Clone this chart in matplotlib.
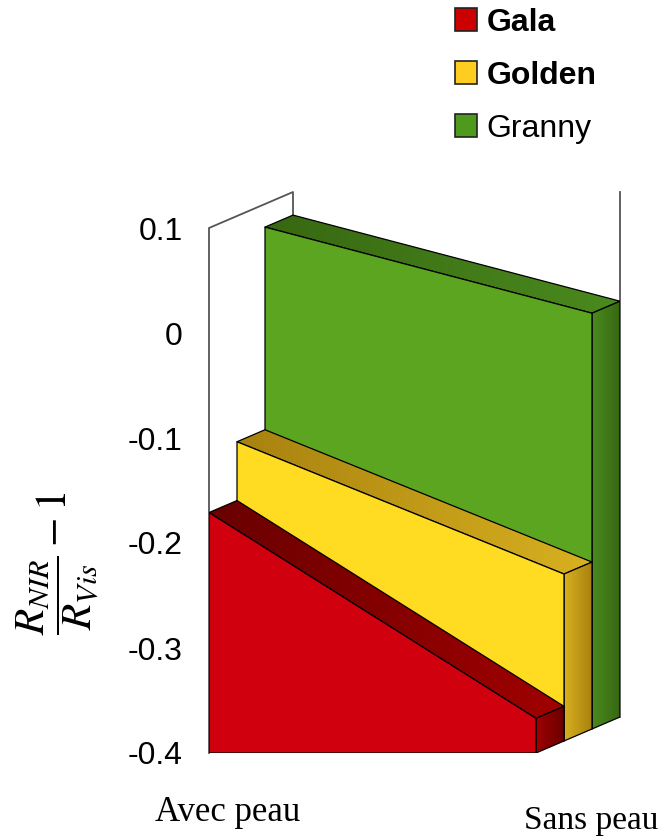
'''
3D-style area chart: NIR/Vis reflectance ratio, with and without skin.
'''

import numpy as np
import matplotlib
matplotlib.use('Agg')
import matplotlib.pyplot as plt
from matplotlib.patches import Polygon, Patch
from matplotlib.colors import LinearSegmentedColormap

plt.rcParams['mathtext.fontset'] = 'stix'

categories = ['Avec peau', 'Sans peau']
series = ['Gala', 'Golden', 'Granny']
gala = [-0.171, -0.367]
golden = [-0.115, -0.241]
granny = [0.078, -0.004]
yticks = [-0.4, -0.3, -0.2, -0.1, 0, 0.1]
yticklabels = ['-0.4', '-0.3', '-0.2', '-0.1', '0', '0.1']

front_colors = ['#D0000F', '#FFDC21', '#5CA520']
# depth faces: light -> dark shading
depth_colors = [('#A00000', '#6A0000'), ('#D8B020', '#A8820F'), ('#4A8A1E', '#386812')]
legend_colors = ['#CC0000', '#FFCC22', '#4E9A1C']

ymin, ymax = -0.4, 0.1
ddx = 28 / 327.0      # depth step, x data units
ddy = 12 / 1050.0     # depth step, y data units
n = len(series)

fig = plt.figure(figsize=(6.7, 8.38), dpi=100)
ax = fig.add_axes([209 / 670, 85 / 838, (1 + n * ddx) * 327 / 670,
                   (ymax - ymin + n * ddy) * 1050 / 838])
for s in ax.spines.values():
    s.set_visible(False)


def shaded(pts, c1, c2, z, horizontal=True):
    poly = Polygon(pts, closed=True, facecolor='none', edgecolor='black',
                   lw=0.9, joinstyle='round', zorder=z + 0.5)
    ax.add_patch(poly)
    xs = [p[0] for p in pts]
    ys = [p[1] for p in pts]
    cm = LinearSegmentedColormap.from_list('g', [c1, c2])
    grad = np.linspace(0, 1, 64)
    grad = grad[None, :] if horizontal else grad[:, None]
    im = ax.imshow(grad, cmap=cm, aspect='auto', origin='lower',
                   extent=[min(xs), max(xs), min(ys), max(ys)], zorder=z,
                   interpolation='bilinear')
    im.set_clip_path(poly)


# walls (left + back edges)
wall = dict(color='#555555', lw=1.3, zorder=1, clip_on=False)
ax.plot([0, 0, n * ddx, n * ddx], [ymin, ymax, ymax + n * ddy, ymin + n * ddy], **wall)
ax.plot([1 + n * ddx, 1 + n * ddx], [ymin + n * ddy, ymax + n * ddy], **wall)

data = [gala, golden, granny]
for k in reversed(range(n)):
    v0, v1 = data[k]
    ox, oy = k * ddx, k * ddy
    bx, by = (k + 1) * ddx, (k + 1) * ddy
    z = 10 + (n - k) * 3
    top = [(ox, v0 + oy), (bx, v0 + by), (1 + bx, v1 + by), (1 + ox, v1 + oy)]
    side = [(1 + ox, ymin + oy), (1 + ox, v1 + oy), (1 + bx, v1 + by), (1 + bx, ymin + by)]
    front = [(ox, ymin + oy), (ox, v0 + oy), (1 + ox, v1 + oy), (1 + ox, ymin + oy)]
    c1, c2 = depth_colors[k]
    shaded(top, c2, c1, z, horizontal=True)
    shaded(side, c1, c2, z + 1, horizontal=True)
    ax.add_patch(Polygon(front, closed=True, facecolor=front_colors[k], edgecolor='black',
                         lw=0.9, joinstyle='round', zorder=z + 2))

ax.set_xlim(0, 1 + n * ddx)
ax.set_ylim(ymin, ymax + n * ddy)
ax.set_xticks([])
ax.set_yticks(yticks)
ax.set_yticklabels(yticklabels, family='Liberation Sans', fontsize=23)
ax.tick_params(axis='y', length=0, pad=19)

ax.text(0.056, -0.457, categories[0], ha='center', va='center',
        family='Liberation Serif', fontsize=25, clip_on=False)
ax.text(1.17, -0.465, categories[1], ha='center', va='center',
        family='Liberation Serif', fontsize=24, clip_on=False)

fig.text(58 / 670, 1 - 563 / 838, r'$\dfrac{R_{NIR}}{R_{Vis}} - 1$', rotation=90,
         ha='center', va='center', fontsize=31)

handles = [Patch(facecolor=c, edgecolor='#222222', lw=1.2) for c in legend_colors]
leg = fig.legend(handles, series, loc='upper left', bbox_to_anchor=(442 / 670, 1 + 5 / 838),
                 frameon=False, prop={'family': 'Liberation Sans', 'size': 23},
                 handlelength=0.7, handleheight=0.7, handletextpad=0.3,
                 labelspacing=0.72, borderaxespad=0)
for t, w in zip(leg.get_texts(), ['bold', 'bold', 'normal']):
    t.set_fontweight(w)

fig.savefig('out.png', dpi=100)
